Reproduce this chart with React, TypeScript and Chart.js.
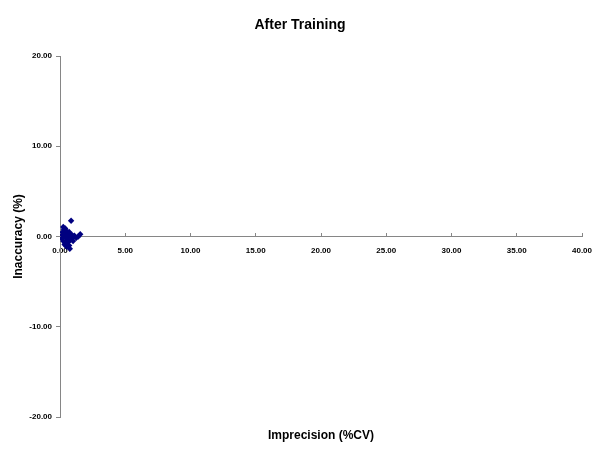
import React, { useEffect, useRef } from "react";
import { Chart, registerables } from "chart.js";

Chart.register(...registerables);

const chartTitle = "After Training";
const xAxisTitle = "Imprecision (%CV)";
const yAxisTitle = "Inaccuracy (%)";

// Imprecision (%CV)
const imprecision = [
  0.85, 0.25, 0.3, 0.4, 0.2, 0.35, 0.5, 0.6, 0.7, 0.9,
  1.1, 1.25, 1.55, 1.4, 0.3, 0.45, 0.55, 0.25, 0.4, 0.6,
  0.8, 0.95, 0.35, 0.7, 0.75, 0.5, 0.15, 1.0, 0.65, 0.2,
];
// Inaccuracy (%)
const inaccuracy = [
  1.75, 1.05, 0.8, 0.9, 0.5, 0.4, 0.6, 0.3, 0.5, 0.2,
  0.1, -0.15, 0.25, 0.0, 0.1, -0.1, -0.3, -0.5, -0.7, -0.6,
  -0.4, -0.2, -0.9, -1.0, -1.35, -1.1, -0.2, -0.5, 0.0, 0.2,
];

const xMin = 0;
const xMax = 40;
const xStep = 5;
const yMin = -20;
const yMax = 20;
const yStep = 10;

export default function App() {
  const ref = useRef<HTMLCanvasElement | null>(null);

  useEffect(() => {
    if (!ref.current) return;
    const points = imprecision.map((x, i) => ({ x, y: inaccuracy[i] }));
    const axisColor = "#868686";
    const tickFont = { family: "Arial, 'Liberation Sans'", size: 8, weight: "bold" as const };
    const chart = new Chart(ref.current, {
      type: "scatter",
      data: {
        datasets: [
          {
            data: points,
            backgroundColor: "#000080",
            borderColor: "#000080",
            pointStyle: "rectRot",
            pointRadius: 3.2,
            pointHoverRadius: 3.2,
            borderWidth: 0,
          },
        ],
      },
      options: {
        responsive: false,
        animation: false,
        layout: { padding: 0 },
        plugins: {
          legend: { display: false },
          tooltip: { enabled: false },
          title: {
            display: true,
            text: chartTitle,
            color: "#000",
            font: { family: "Arial, 'Liberation Sans'", size: 14, weight: "bold" },
            padding: { top: 16.5, bottom: 22.7 },
          },
          subtitle: {
            display: true,
            position: "bottom",
            fullSize: false,
            text: xAxisTitle,
            color: "#000",
            font: { family: "Arial, 'Liberation Sans'", size: 12, weight: "bold" },
            padding: { top: 11.5, bottom: 9.1 },
          },
        },
        scales: {
          x: {
            type: "linear",
            min: xMin,
            max: xMax,
            position: { y: 0 },
            border: { color: axisColor, width: 1 },
            grid: {
              drawOnChartArea: false,
              color: axisColor,
              tickLength: -4,
            },
            ticks: {
              stepSize: xStep,
              color: "#000",
              font: tickFont,
              padding: 13,
              maxRotation: 0,
              autoSkip: false,
              callback: (v: any) => Number(v).toFixed(2),
            },
            afterFit: (scale: any) => {
              scale.paddingRight = 18;
              scale.paddingLeft = 0;
            },
          },
          y: {
            type: "linear",
            min: yMin,
            max: yMax,
            position: "left",
            border: { color: axisColor, width: 1 },
            grid: {
              drawOnChartArea: false,
              color: axisColor,
              tickLength: 4,
            },
            ticks: {
              stepSize: yStep,
              color: "#000",
              font: tickFont,
              padding: 4,
              callback: (v: any) => Number(v).toFixed(2),
            },
            title: {
              display: true,
              text: yAxisTitle,
              color: "#000",
              font: { family: "Arial, 'Liberation Sans'", size: 12, weight: "bold" },
              padding: { top: 11, bottom: 0 },
            },
            afterFit: (scale: any) => {
              scale.width = 60;
            },
          },
        },
      },
    });
    return () => chart.destroy();
  }, []);

  return (
    <div style={{ position: "fixed", left: 0, top: 0, width: 600, height: 452, background: "#fff" }}>
      <canvas ref={ref} width={600} height={452} style={{ display: "block" }} />
    </div>
  );
}
